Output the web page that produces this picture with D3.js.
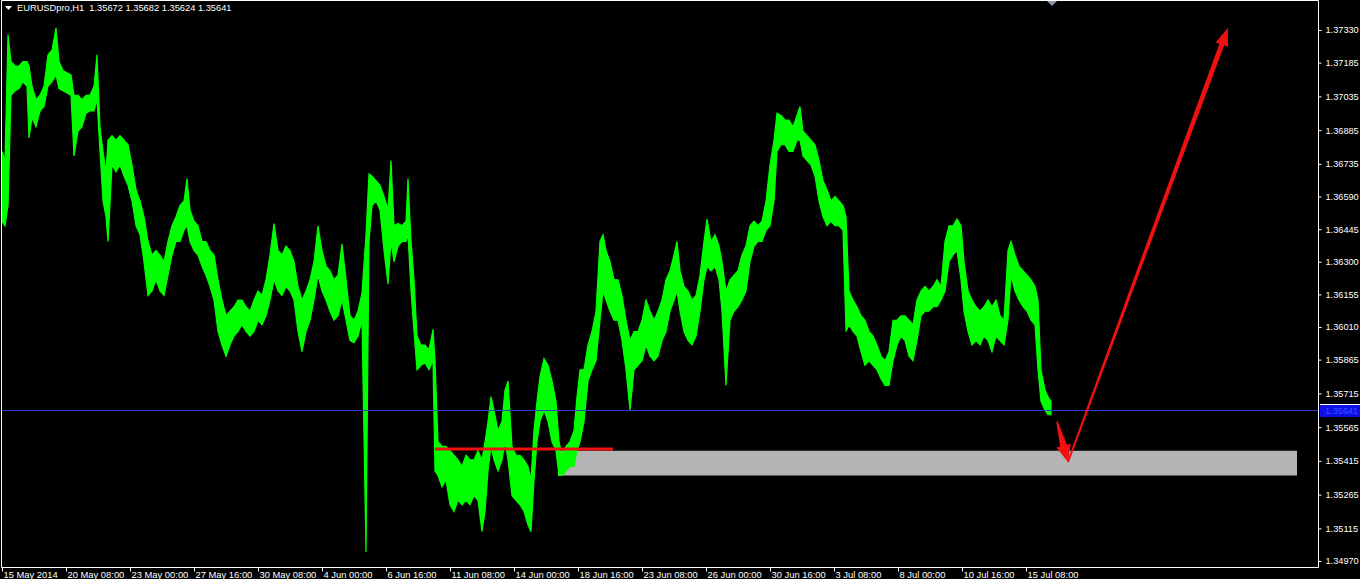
<!DOCTYPE html>
<html><head><meta charset="utf-8">
<script src="https://cdn.jsdelivr.net/npm/d3@7/dist/d3.min.js"></script>
<style>html,body{margin:0;padding:0;background:#000;overflow:hidden}</style>
</head><body>
<svg id="c" width="1360" height="579"></svg>
<script>
const symbolTitle = "EURUSDpro,H1  1.35672 1.35682 1.35624 1.35641";

const barIndex = [
0,3,6,9,13,17,21,25,27,30,
34,38,42,46,50,54,57,61,65,69,
72,76,80,84,88,92,95,98,101,104,
106,110,114,118,122,126,130,134,138,142,
146,150,154,158,162,166,170,174,178,182,
185,188,192,196,200,204,208,212,216,220,
224,228,232,236,240,244,248,252,256,260,
264,268,272,276,280,284,288,292,296,300,
304,308,312,316,320,324,328,332,336,340,
344,348,352,356,360,364,367,370,374,378,
382,386,389,392,396,400,404,406,409,412,
415,419,423,427,431,433,436,440,444,448,
452,456,460,464,468,472,476,480,483,486,
489,492,496,500,503,506,510,514,518,522,
526,529,532,535,538,542,546,550,554,557,
560,564,568,572,575,578,582,586,590,594,
598,601,604,608,612,616,620,624,628,632,
636,640,644,648,652,656,660,664,668,672,
675,678,682,686,690,694,698,702,705,709,
713,717,720,724,728,732,736,740,744,748,
752,756,760,764,768,772,775,779,783,787,
791,795,798,801,805,809,813,817,821,825,
829,833,837,841,844,847,851,855,859,863,
867,871,875,879,883,887,891,895,899,903,
907,911,915,919,923,927,931,935,939,943,
947,951,955,959,962,966,970,974,978,982,
986,990,994,998,1002,1006,1009,1013,1017,1021,
1025,1029,1033,1036,1039,1043,1046,1049];

const highs = [
1.3679,1.3675,1.3731,1.3719,1.3717,1.3717,1.3719,1.3719,1.3717,1.3708,
1.3702,1.3704,1.3708,1.3722,1.3724,1.3734,1.3719,1.3715,1.3714,1.3713,
1.3704,1.3704,1.3702,1.3704,1.3704,1.3708,1.3722,1.3690,1.3679,1.3670,
1.3684,1.3686,1.3684,1.3686,1.3684,1.3682,1.3673,1.3662,1.3657,1.3650,
1.3639,1.3633,1.3635,1.3633,1.3630,1.3639,1.3646,1.3650,1.3655,1.3657,
1.3667,1.3653,1.3648,1.3646,1.3639,1.3639,1.3635,1.3633,1.3622,1.3613,
1.3606,1.3608,1.3610,1.3613,1.3613,1.3610,1.3608,1.3613,1.3617,1.3615,
1.3622,1.3633,1.3647,1.3635,1.3633,1.3637,1.3635,1.3630,1.3619,1.3613,
1.3617,1.3622,1.3630,1.3646,1.3635,1.3628,1.3626,1.3622,1.3624,1.3638,
1.3622,1.3606,1.3604,1.3608,1.3616,1.3642,1.3669,1.3668,1.3666,1.3664,
1.3659,1.3653,1.3675,1.3646,1.3647,1.3646,1.3648,1.3667,1.3639,1.3622,
1.3597,1.3593,1.3593,1.3591,1.3600,1.3586,1.3550,1.3548,1.3548,1.3546,
1.3544,1.3542,1.3539,1.3544,1.3542,1.3542,1.3546,1.3542,1.3550,1.3559,
1.3570,1.3564,1.3555,1.3559,1.3573,1.3577,1.3548,1.3544,1.3544,1.3542,
1.3539,1.3533,1.3555,1.3568,1.3579,1.3587,1.3584,1.3577,1.3568,1.3550,
1.3544,1.3548,1.3550,1.3555,1.3570,1.3582,1.3582,1.3593,1.3599,1.3608,
1.3639,1.3642,1.3635,1.3630,1.3622,1.3622,1.3615,1.3604,1.3595,1.3599,
1.3599,1.3604,1.3613,1.3608,1.3604,1.3608,1.3613,1.3622,1.3626,1.3633,
1.3639,1.3626,1.3619,1.3617,1.3613,1.3615,1.3624,1.3639,1.3649,1.3639,
1.3642,1.3637,1.3630,1.3617,1.3622,1.3624,1.3626,1.3633,1.3637,1.3646,
1.3648,1.3646,1.3648,1.3657,1.3673,1.3684,1.3696,1.3695,1.3693,1.3693,
1.3690,1.3695,1.3699,1.3688,1.3686,1.3684,1.3682,1.3675,1.3666,1.3662,
1.3657,1.3659,1.3657,1.3655,1.3650,1.3617,1.3613,1.3610,1.3606,1.3604,
1.3599,1.3597,1.3593,1.3588,1.3586,1.3590,1.3604,1.3604,1.3606,1.3606,
1.3604,1.3602,1.3613,1.3617,1.3619,1.3617,1.3619,1.3622,1.3619,1.3639,
1.3646,1.3646,1.3649,1.3646,1.3630,1.3617,1.3613,1.3610,1.3608,1.3610,
1.3613,1.3610,1.3613,1.3606,1.3604,1.3635,1.3639,1.3633,1.3628,1.3626,
1.3624,1.3622,1.3619,1.3613,1.3582,1.3573,1.3570,1.3568];

const lows = [
1.3648,1.3646,1.3655,1.3704,1.3706,1.3707,1.3710,1.3708,1.3685,1.3694,
1.3690,1.3697,1.3699,1.3708,1.3710,1.3713,1.3707,1.3706,1.3705,1.3704,
1.3677,1.3688,1.3690,1.3696,1.3697,1.3697,1.3702,1.3679,1.3657,1.3650,
1.3639,1.3673,1.3670,1.3673,1.3668,1.3664,1.3657,1.3646,1.3642,1.3630,
1.3615,1.3617,1.3622,1.3617,1.3615,1.3624,1.3633,1.3639,1.3639,1.3644,
1.3646,1.3639,1.3635,1.3633,1.3628,1.3624,1.3619,1.3613,1.3599,1.3593,
1.3588,1.3593,1.3597,1.3599,1.3602,1.3599,1.3597,1.3599,1.3604,1.3602,
1.3606,1.3613,1.3622,1.3617,1.3615,1.3619,1.3617,1.3613,1.3599,1.3590,
1.3599,1.3604,1.3613,1.3624,1.3617,1.3613,1.3608,1.3604,1.3606,1.3613,
1.3604,1.3595,1.3594,1.3597,1.3604,1.3501,1.3639,1.3655,1.3657,1.3653,
1.3635,1.3620,1.3639,1.3630,1.3637,1.3639,1.3639,1.3642,1.3617,1.3599,
1.3582,1.3584,1.3585,1.3582,1.3586,1.3537,1.3535,1.3530,1.3533,1.3522,
1.3519,1.3524,1.3522,1.3524,1.3522,1.3526,1.3524,1.3510,1.3519,1.3537,
1.3548,1.3542,1.3537,1.3542,1.3550,1.3542,1.3526,1.3524,1.3522,1.3519,
1.3513,1.3510,1.3533,1.3550,1.3559,1.3564,1.3559,1.3550,1.3546,1.3535,
1.3535,1.3537,1.3539,1.3539,1.3546,1.3550,1.3559,1.3577,1.3582,1.3586,
1.3604,1.3617,1.3613,1.3608,1.3604,1.3604,1.3595,1.3582,1.3564,1.3582,
1.3584,1.3586,1.3593,1.3588,1.3586,1.3588,1.3595,1.3599,1.3608,1.3613,
1.3617,1.3608,1.3599,1.3595,1.3593,1.3597,1.3608,1.3622,1.3628,1.3626,
1.3628,1.3622,1.3608,1.3575,1.3604,1.3608,1.3610,1.3613,1.3617,1.3630,
1.3637,1.3639,1.3639,1.3644,1.3646,1.3657,1.3679,1.3682,1.3682,1.3679,
1.3679,1.3684,1.3684,1.3677,1.3675,1.3673,1.3668,1.3657,1.3650,1.3646,
1.3648,1.3646,1.3646,1.3644,1.3599,1.3602,1.3599,1.3597,1.3590,1.3584,
1.3586,1.3584,1.3582,1.3578,1.3575,1.3575,1.3586,1.3593,1.3597,1.3595,
1.3588,1.3586,1.3595,1.3606,1.3608,1.3608,1.3610,1.3610,1.3613,1.3617,
1.3630,1.3633,1.3635,1.3622,1.3608,1.3599,1.3593,1.3595,1.3593,1.3597,
1.3595,1.3590,1.3597,1.3595,1.3593,1.3604,1.3624,1.3617,1.3613,1.3610,
1.3608,1.3604,1.3602,1.3582,1.3568,1.3564,1.3562,1.3562];

const xTickBars = [0,64,128,192,256,320,384,448,512,576,640,704,768,832,896,960,1024];
const xTickLabels = ["15 May 2014","20 May 08:00","23 May 00:00","27 May 16:00","30 May 08:00",
  "4 Jun 00:00","6 Jun 16:00","11 Jun 08:00","14 Jun 00:00","18 Jun 16:00","23 Jun 08:00",
  "26 Jun 00:00","30 Jun 16:00","3 Jul 08:00","8 Jul 00:00","10 Jul 16:00","15 Jul 08:00"];
const priceTicks = [1.37330,1.37185,1.37035,1.36885,1.36735,1.36590,1.36445,1.36300,1.36155,
  1.36010,1.35865,1.35715,1.35565,1.35415,1.35265,1.35115,1.34970];

const bidPrice = 1.35641;
const levelBars = [433, 611];
const levelPrice = 1.35468;
const zoneBars = [556, 1295];
const zonePrices = [1.35460, 1.35350];
const arrowDownBars = [1055, 1066];
const arrowDownPrices = [1.3559, 1.3541];
const arrowUpBars = [1066, 1226];
const arrowUpPrices = [1.3541, 1.3734];
const shiftMarkerBar = 1050;

// ---------- drawing ----------
const W = 1360, H = 579;
const pL = 1, pR = 1318, pT = 0, pB = 567;
const svg = d3.select("#c");
svg.append("rect").attr("width", W).attr("height", H).attr("fill", "#000");

const x = d3.scaleLinear().domain([0, 1316]).range([2, 1318]);
const y = d3.scaleLinear().domain([1.34970, 1.37330]).range([561, 30]);

svg.append("defs").append("clipPath").attr("id", "plot")
  .append("rect").attr("x", pL).attr("y", pT).attr("width", pR - pL).attr("height", pB - pT);
const g = svg.append("g").attr("clip-path", "url(#plot)");

// grey zone (background object)
g.append("rect")
  .attr("x", x(zoneBars[0])).attr("y", y(zonePrices[0]))
  .attr("width", x(zoneBars[1]) - x(zoneBars[0]))
  .attr("height", y(zonePrices[1]) - y(zonePrices[0]))
  .attr("fill", "#b4b4b4");

// price band (bar highs/lows)
const idx = d3.range(barIndex.length);
const area = d3.area()
  .x(i => x(barIndex[i]))
  .y0(i => y(lows[i]))
  .y1(i => y(highs[i]));
g.append("path").attr("d", area(idx))
  .attr("fill", "#00ff00").attr("stroke", "#00ff00").attr("stroke-width", 1.2)
  .attr("stroke-linejoin", "miter");

// red horizontal level
g.append("line")
  .attr("x1", x(levelBars[0])).attr("x2", x(levelBars[1]))
  .attr("y1", y(levelPrice)).attr("y2", y(levelPrice))
  .attr("stroke", "#f01010").attr("stroke-width", 3);

// bid line
g.append("line")
  .attr("x1", pL).attr("x2", pR)
  .attr("y1", Math.round(y(bidPrice)) + 0.5).attr("y2", Math.round(y(bidPrice)) + 0.5)
  .attr("stroke", "#2e3cc8").attr("stroke-width", 1);

// arrows
function arrow(p1, p2, w1, w2, headLen, headW) {
  const dx = p2[0] - p1[0], dy = p2[1] - p1[1];
  const L = Math.hypot(dx, dy);
  const ux = dx / L, uy = dy / L, nx = -uy, ny = ux;
  const sx = p2[0] - ux * headLen, sy = p2[1] - uy * headLen;
  const pts = [
    [p1[0] + nx * w1 / 2, p1[1] + ny * w1 / 2],
    [sx + nx * w2 / 2, sy + ny * w2 / 2],
    [sx + nx * headW / 2, sy + ny * headW / 2],
    p2,
    [sx - nx * headW / 2, sy - ny * headW / 2],
    [sx - nx * w2 / 2, sy - ny * w2 / 2],
    [p1[0] - nx * w1 / 2, p1[1] - ny * w1 / 2]
  ];
  g.append("path").attr("d", d3.line()(pts) + "Z").attr("fill", "#f01010");
}
arrow([x(arrowUpBars[0]), y(arrowUpPrices[0])], [x(arrowUpBars[1]), y(arrowUpPrices[1])], 2, 5, 18, 13);
arrow([x(arrowDownBars[0]), y(arrowDownPrices[0])], [x(arrowDownBars[1]), y(arrowDownPrices[1])], 1.5, 7, 17, 15);

// shift marker
const mx = x(shiftMarkerBar);
svg.append("path").attr("d", `M${mx - 6},0L${mx + 6},0L${mx},6Z`).attr("fill", "#8a96a2");

// frame
svg.append("path")
  .attr("d", `M${pL + 0.5},0.5H${pR + 0.5}V${pB + 0.5}H${pL + 0.5}Z`)
  .attr("fill", "none").attr("stroke", "#fff").attr("stroke-width", 1);

const font = "'Liberation Sans', Arial, sans-serif";

// right price axis
const yAxis = d3.axisRight(y).tickValues(priceTicks).tickFormat(d3.format(".5f")).tickSize(3).tickPadding(4);
const ya = svg.append("g").attr("transform", `translate(${pR + 0.5},0)`).call(yAxis);
ya.select(".domain").remove();
ya.selectAll("line").attr("stroke", "#fff");
ya.selectAll("text").attr("fill", "#fff").attr("font-family", font).attr("font-size", 9.2);

// bid label
const by = Math.round(y(bidPrice));
svg.append("rect").attr("x", pR + 2).attr("y", by - 6).attr("width", W - pR - 2).attr("height", 13).attr("fill", "#1010e6");
svg.append("line").attr("x1", pR + 2).attr("x2", W).attr("y1", by - 5.5).attr("y2", by - 5.5).attr("stroke", "#fff");
svg.append("text").attr("x", pR + 7).attr("y", by + 3.5).text(d3.format(".5f")(bidPrice))
  .attr("fill", "#3850ff").attr("font-family", font).attr("font-size", 9.2);

// bottom time axis
const xAxis = d3.axisBottom(x).tickValues(xTickBars).tickFormat((d, i) => xTickLabels[i]).tickSize(4);
const xa = svg.append("g").attr("transform", `translate(0,${pB + 0.5})`).call(xAxis);
xa.select(".domain").remove();
xa.selectAll("line").attr("stroke", "#fff");
xa.selectAll("text").attr("fill", "#fff").attr("font-family", font).attr("font-size", 9.4)
  .attr("text-anchor", "start").attr("x", 1).attr("dy", null).attr("y", 10);

// title
svg.append("path").attr("d", "M5,6L12,6L8.5,10Z").attr("fill", "#fff");
svg.append("text").attr("x", 17).attr("y", 11).text(symbolTitle)
  .attr("fill", "#fff").attr("font-family", font).attr("font-size", 9.3)
  .style("white-space", "pre");
</script>
</body></html>
